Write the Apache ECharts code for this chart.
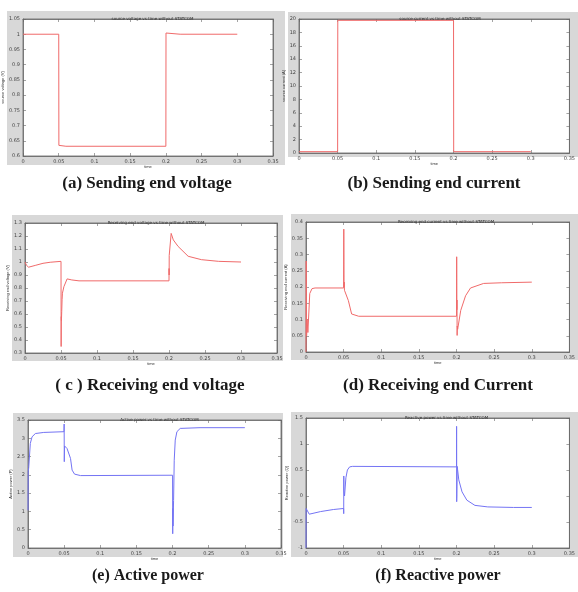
<!DOCTYPE html>
<html>
<head>
<meta charset="utf-8">
<script src="https://cdn.jsdelivr.net/npm/echarts@6/dist/echarts.min.js"></script>
<style>
  html, body { margin: 0; padding: 0; background: #fff; }
  #main { width: 578px; height: 592px; }
</style>
</head>
<body>
<div id="main"></div>
<script>
// shared time axis (s)
var timeMin = 0, timeMax = 0.35, timeStep = 0.05;

// (a) source voltage
var aTime = [0, 0.05, 0.0502, 0.06, 0.2, 0.2002, 0.21, 0.22, 0.3];
var aVal = [1, 1, 0.635, 0.632, 0.632, 1.004, 1.002, 1.0, 1.0];

// (b) source current
var bTime = [0, 0.05, 0.0502, 0.2, 0.2002, 0.3];
var bVal = [0.2, 0.2, 19.8, 19.8, 0.2, 0.2];

// (c) receiving end voltage
var cTime = [0, 0.002, 0.005, 0.015, 0.025, 0.035, 0.05, 0.0502, 0.0504, 0.0506, 0.051, 0.0515, 0.052, 0.054, 0.0585, 0.061, 0.065, 0.075, 0.2, 0.2001, 0.2002, 0.2003, 0.203, 0.206, 0.2126, 0.2266, 0.245, 0.269, 0.3];
var cVal = [1.0, 0.975, 0.96, 0.975, 0.99, 0.998, 1.005, 0.35, 0.58, 0.55, 0.62, 0.71, 0.76, 0.81, 0.87, 0.875, 0.862, 0.855, 0.855, 0.95, 0.9, 1.05, 1.22, 1.17, 1.12, 1.044, 1.018, 1.005, 1.0];

// (d) receiving end current
var dTime = [0, 0.0003, 0.0008, 0.0015, 0.0025, 0.005, 0.008, 0.012, 0.05, 0.0502, 0.0505, 0.0508, 0.0511, 0.052, 0.0563, 0.0606, 0.0628, 0.07, 0.2, 0.2002, 0.2004, 0.2006, 0.2008, 0.201, 0.2015, 0.2056, 0.212, 0.2186, 0.236, 0.26, 0.3];
var dVal = [0, 0.28, 0.05, 0.1, 0.06, 0.18, 0.195, 0.197, 0.197, 0.378, 0.2, 0.215, 0.19, 0.194, 0.158, 0.117, 0.112, 0.11, 0.11, 0.293, 0.13, 0.16, 0.051, 0.08, 0.07, 0.128, 0.173, 0.197, 0.211, 0.213, 0.215];

// (e) active power
var eTime = [0, 0.0003, 0.001, 0.0032, 0.0056, 0.0102, 0.0218, 0.0498, 0.05, 0.0502, 0.0506, 0.054, 0.0588, 0.061, 0.0644, 0.0727, 0.2, 0.2002, 0.2004, 0.2006, 0.2014, 0.2023, 0.2037, 0.206, 0.2106, 0.238, 0.3];
var eVal = [1.03, 2.08, 2.2, 2.86, 3.04, 3.13, 3.16, 3.18, 3.39, 2.36, 2.79, 2.72, 2.45, 2.13, 2.02, 1.98, 1.99, 0.39, 1.08, 0.6, 1.3, 2.4, 2.95, 3.18, 3.27, 3.29, 3.29];

// (f) reactive power
var fTime = [0, 0.0002, 0.001, 0.0021, 0.0043, 0.0192, 0.0363, 0.05, 0.0501, 0.0502, 0.0504, 0.0512, 0.053, 0.055, 0.058, 0.062, 0.2, 0.2001, 0.2002, 0.2004, 0.2009, 0.203, 0.2073, 0.2137, 0.2244, 0.2415, 0.2756, 0.3];
var fVal = [-1, -0.24, -0.27, -0.27, -0.35, -0.30, -0.26, -0.24, -0.34, 0.385, 0.1, 0.0, 0.35, 0.5, 0.56, 0.57, 0.56, 1.34, -0.11, 0.0, 0.57, 0.31, 0.08, -0.08, -0.18, -0.21, -0.22, -0.22];

// y axis ranges [min, max, interval]
var yRanges = [[0.6, 1.05, 0.05], [0, 20, 2], [0.3, 1.3, 0.1], [0, 0.4, 0.05], [0, 3.5, 0.5], [-1, 1.5, 0.5]];

var plotTitles = [
  'source voltage vs time without STATCOM',
  'source current vs time without STATCOM',
  'Receiving end voltage vs time without STATCOM',
  'Receiving end current vs time without STATCOM',
  'Active power vs time without STATCOM',
  'Reactive power vs time without STATCOM'
];
var yNames = ['source voltage (V)', 'source current (A)', 'Receiving end voltage (V)',
  'Receiving end current (A)', 'Active power (P)', 'Reactive power (Q)'];
var captions = ['(a) Sending end voltage', '(b) Sending end current', '( c ) Receiving end voltage',
  '(d) Receiving end Current', '(e) Active power', '(f) Reactive power'];

var times = [aTime, bTime, cTime, dTime, eTime, fTime];
var vals = [aVal, bVal, cVal, dVal, eVal, fVal];
var lineColors = ['#f06a6a', '#f06a6a', '#f06a6a', '#f06a6a', '#7474f4', '#7474f4'];

// layout: grey figure box [x, y, w, h], plot box [x, y, w, h], caption centre [x, y], caption size
var layout = [
  { grey: [7, 11, 278, 154], plot: [22, 19, 251, 137], cap: [147, 184], size: 17 },
  { grey: [288, 12, 290, 145], plot: [299, 19, 272, 134], cap: [434, 184], size: 17 },
  { grey: [12, 215, 271, 146], plot: [25, 223, 252, 130], cap: [150, 386], size: 17 },
  { grey: [291, 214, 287, 146], plot: [306, 222, 270, 130], cap: [438, 386], size: 17 },
  { grey: [13, 413, 270, 144], plot: [28, 420, 253, 128], cap: [148, 576], size: 16 },
  { grey: [291, 412, 287, 145], plot: [306, 418, 271, 130], cap: [438, 576], size: 16 }
];

function pairs(t, v) {
  var out = [];
  for (var i = 0; i < t.length; i++) out.push([t[i], v[i]]);
  return out;
}

var tickFont = { fontSize: 5, color: '#444', fontFamily: 'DejaVu Sans' };
var grids = [], xAxes = [], yAxes = [], series = [], titles = [], graphics = [];

layout.forEach(function (L, i) {
  var p = L.plot, g = L.grey, yr = yRanges[i];
  graphics.push({
    type: 'rect', z: -100,
    shape: { x: g[0], y: g[1], width: g[2], height: g[3] },
    style: { fill: '#d8d8d8' }
  });
  graphics.push({
    type: 'text', z: 10,
    style: {
      text: captions[i], x: L.cap[0], y: L.cap[1],
      textAlign: 'center', textVerticalAlign: 'middle', align: 'center', verticalAlign: 'middle',
      font: 'bold ' + L.size + 'px "Liberation Serif"', fill: '#1a1a1a'
    }
  });
  grids.push({
    left: p[0], top: p[1], width: p[2], height: p[3],
    show: true, backgroundColor: '#fff', borderColor: '#666', borderWidth: 0.8
  });
  titles.push({
    text: plotTitles[i], left: p[0] + p[2] / 2, top: p[1] - 7, textAlign: 'center',
    textStyle: { fontSize: 4, fontWeight: 'normal', color: '#333', fontFamily: 'DejaVu Sans' }
  });
  var xBase = {
    gridIndex: i, type: 'value', min: timeMin, max: timeMax, interval: timeStep,
    splitLine: { show: false },
    axisLine: { show: true, onZero: false, lineStyle: { color: '#666', width: 0.8 } },
    axisTick: { inside: true, length: 3, lineStyle: { color: '#666', width: 0.6 } }
  };
  xAxes.push(Object.assign({}, xBase, {
    position: 'bottom', name: 'time', nameLocation: 'middle', nameGap: 8,
    nameTextStyle: { fontSize: 4, color: '#333' },
    axisLabel: Object.assign({ margin: 3 }, tickFont)
  }));
  xAxes.push(Object.assign({}, xBase, { position: 'top', axisLabel: { show: false } }));
  var yBase = {
    gridIndex: i, type: 'value', min: yr[0], max: yr[1], interval: yr[2],
    splitLine: { show: false },
    axisLine: { show: true, onZero: false, lineStyle: { color: '#666', width: 0.8 } },
    axisTick: { inside: true, length: 3, lineStyle: { color: '#666', width: 0.6 } }
  };
  yAxes.push(Object.assign({}, yBase, {
    position: 'left', name: yNames[i], nameLocation: 'middle', nameGap: 11,
    nameTextStyle: { fontSize: 4, color: '#333' },
    axisLabel: Object.assign({ margin: 3 }, tickFont)
  }));
  yAxes.push(Object.assign({}, yBase, { position: 'right', axisLabel: { show: false } }));
  series.push({
    type: 'line', xAxisIndex: i * 2, yAxisIndex: i * 2,
    data: pairs(times[i], vals[i]),
    showSymbol: false, symbol: 'none',
    lineStyle: { color: lineColors[i], width: 1 }
  });
});

var chart = echarts.init(document.getElementById('main'));
chart.setOption({
  animation: false,
  backgroundColor: '#fff',
  title: titles,
  grid: grids,
  xAxis: xAxes,
  yAxis: yAxes,
  graphic: { elements: graphics },
  series: series
});
</script>
</body>
</html>
